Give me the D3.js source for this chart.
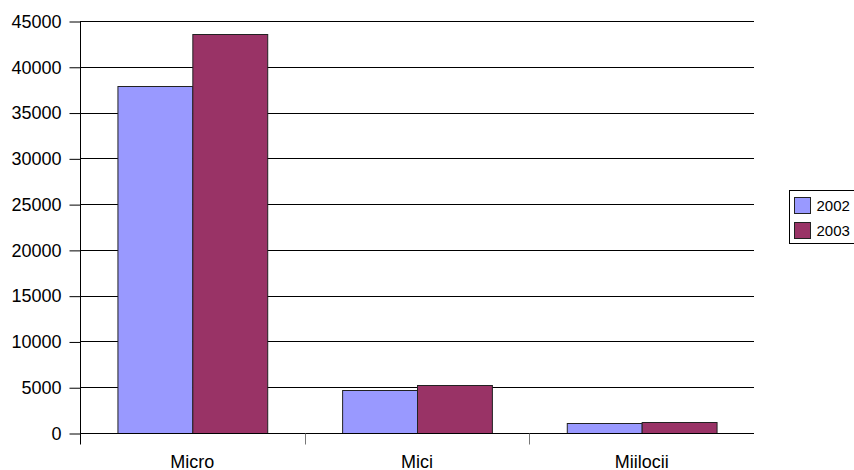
<!DOCTYPE html>
<html lang="ro">

<head>
  <meta charset="UTF-8">
  <title>Intreprinderi</title>
  <style>
    * {
      margin: 0;
      padding: 0;
      box-sizing: border-box;
    }

    body {
      background-color: white;
      width: 854px;
      height: 470px;
      overflow: hidden;
      font-family: "Liberation Sans", Arial, sans-serif;
    }

    #chart {
      display: block;
    }
  </style>
  <script src="https://cdnjs.cloudflare.com/ajax/libs/d3/7.8.5/d3.min.js"></script>
</head>

<body>
  <svg id="chart" width="854" height="470"></svg>

  <script>
    // data
    const categories = ['Micro', 'Mici', 'Miilocii'];
    const years = ['2002', '2003'];
    const values2002 = [37950, 4670, 1130];
    const values2003 = [43600, 5260, 1240];
    const yTicks = [0, 5000, 10000, 15000, 20000, 25000, 30000, 35000, 40000, 45000];
    const colors = ['#9999FF', '#993366'];

    const rows = categories.map((c, i) => ({
      name: c,
      vals: [values2002[i], values2003[i]]
    }));

    const plotLeft = 80, plotRight = 754, plotTop = 21, plotBottom = 433;

    const svg = d3.select('#chart');

    const x0 = d3.scaleBand()
      .domain(categories)
      .range([plotLeft, plotRight]);

    const bw = x0.bandwidth();
    const x1 = d3.scaleBand()
      .domain(years)
      .range([bw / 6, bw * 5 / 6]);

    const y = d3.scaleLinear()
      .domain([0, 45000])
      .range([plotBottom, plotTop]);

    // gridlines
    svg.append('g')
      .selectAll('line')
      .data(yTicks.filter(t => t > 0))
      .enter()
      .append('line')
      .attr('x1', plotLeft)
      .attr('x2', plotRight)
      .attr('y1', d => Math.round(y(d)) + 0.5)
      .attr('y2', d => Math.round(y(d)) + 0.5)
      .attr('stroke', '#000')
      .attr('stroke-width', 1);

    // bars
    const groups = svg.append('g')
      .selectAll('g')
      .data(rows)
      .enter()
      .append('g')
      .attr('transform', d => `translate(${x0(d.name)},0)`);

    groups.selectAll('rect')
      .data(d => d.vals.map((v, i) => ({ year: years[i], v: v, i: i })))
      .enter()
      .append('rect')
      .attr('x', d => x1(d.year) + 0.5)
      .attr('y', d => Math.round(y(d.v)) + 0.5)
      .attr('width', x1.bandwidth())
      .attr('height', d => plotBottom - Math.round(y(d.v)))
      .attr('fill', d => colors[d.i])
      .attr('stroke', '#222')
      .attr('stroke-width', 1);

    // y axis
    const yAxis = d3.axisLeft(y)
      .tickValues(yTicks)
      .tickSize(11)
      .tickPadding(8)
      .tickFormat(d3.format('d'));

    const gy = svg.append('g')
      .attr('transform', `translate(${plotLeft + 0.5},0.5)`)
      .call(yAxis);
    gy.select('.domain').attr('d', `M0,${plotTop}V${plotBottom + 11}`).attr('stroke', '#000');
    gy.selectAll('.tick line').attr('stroke', '#000');
    gy.selectAll('text')
      .attr('fill', '#000')
      .style('font-family', '"Liberation Sans", Arial, sans-serif')
      .style('font-size', '18px');

    // x axis
    const xAxis = d3.axisBottom(x0)
      .tickSize(0)
      .tickPadding(22);

    const gx = svg.append('g')
      .attr('transform', `translate(0,${plotBottom + 0.5})`)
      .call(xAxis);
    gx.select('.domain').attr('d', `M${plotLeft},0H${plotRight}`).attr('stroke', '#000');
    gx.selectAll('text')
      .attr('fill', '#000')
      .style('font-family', '"Liberation Sans", Arial, sans-serif')
      .style('font-size', '18px');

    // category separators
    gx.selectAll('.sep')
      .data(categories.slice(1).map(c => x0(c)))
      .enter()
      .append('line')
      .attr('class', 'sep')
      .attr('x1', d => Math.round(d) + 0.5)
      .attr('x2', d => Math.round(d) + 0.5)
      .attr('y1', 0)
      .attr('y2', 11)
      .attr('stroke', '#777');

    // legend
    const lg = svg.append('g')
      .attr('transform', 'translate(789.5,190.5)');
    lg.append('rect')
      .attr('width', 72)
      .attr('height', 53)
      .attr('fill', 'white')
      .attr('stroke', '#000');
    years.forEach((yr, i) => {
      lg.append('rect')
        .attr('x', 5)
        .attr('y', 7 + i * 25)
        .attr('width', 16)
        .attr('height', 16)
        .attr('fill', colors[i])
        .attr('stroke', '#222');
      lg.append('text')
        .attr('x', 27)
        .attr('y', 15 + i * 25)
        .attr('dy', '0.35em')
        .style('font-size', '15px')
        .text(yr);
    });
  </script>
</body>

</html>
